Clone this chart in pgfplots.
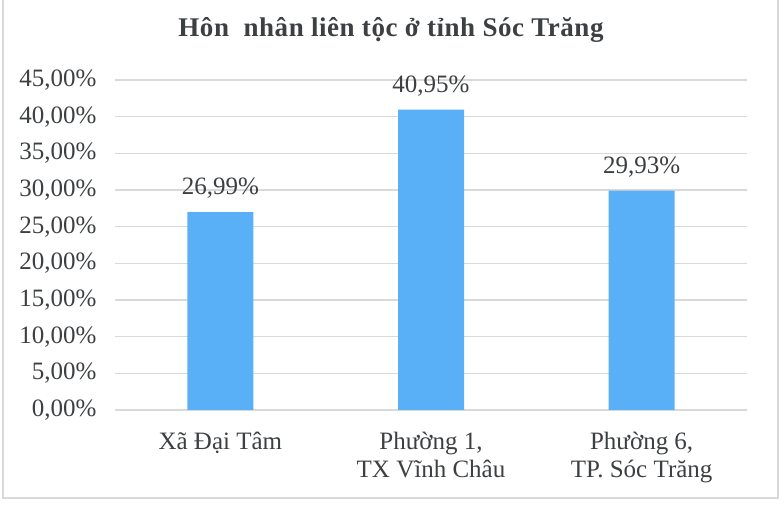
\documentclass[border=0pt]{standalone}
\usepackage{fontspec}
\setmainfont{Liberation Serif}
\usepackage{pgfplots}
\pgfplotsset{compat=1.18}
\definecolor{barblue}{HTML}{5AB0F6}
\definecolor{txt}{HTML}{3D4042}
\definecolor{gridc}{HTML}{D9D9D9}
\begin{document}
\begin{tikzpicture}[x=1pt,y=1pt]
\path[use as bounding box, fill=white] (0,0) rectangle (784,508);
\draw[gridc, line width=1.5pt] (3,508) -- (3,10) -- (778,10) -- (778,508);
\node[font=\fontsize{27}{31}\selectfont\bfseries\addfontfeature{LetterSpace=2}, text=txt] at (391,478) {Hôn\ \ nhân liên tộc ở tỉnh Sóc Trăng};
\begin{axis}[
    at={(115pt,98pt)}, anchor=south west,
    scale only axis, width=632pt, height=330pt,
    xmin=-0.5, xmax=2.5, ymin=0, ymax=45,
    ytick={0,5,...,45},
    xtick={0,1,2},
    xticklabels={Xã Đại Tâm, {Phường 1,\\TX Vĩnh Châu}, {Phường 6,\\TP. Sóc Trăng}},
    axis line style={draw=none},
    tick style={draw=none},
    ymajorgrids,
    major grid style={gridc, line width=1.5pt},
    /pgf/number format/assume math mode=true,
    yticklabel={\pgfmathprintnumber[fixed,fixed zerofill,precision=2,use comma]{\tick}\%},
    tick label style={font=\fontsize{25}{28}\selectfont, text=txt},
    yticklabel style={xshift=-15pt},
    xticklabel style={align=center, yshift=-14pt},
    ybar, bar width=66pt,
    nodes near coords={\pgfmathprintnumber[fixed,fixed zerofill,precision=2,use comma]{\pgfplotspointmeta}\%},
    nodes near coords style={font=\fontsize{25}{28}\selectfont, text=txt, anchor=south, yshift=10pt},
]
\addplot[fill=barblue, draw=none] coordinates {(0,26.99) (1,40.95) (2,29.93)};
\end{axis}
\end{tikzpicture}
\end{document}
